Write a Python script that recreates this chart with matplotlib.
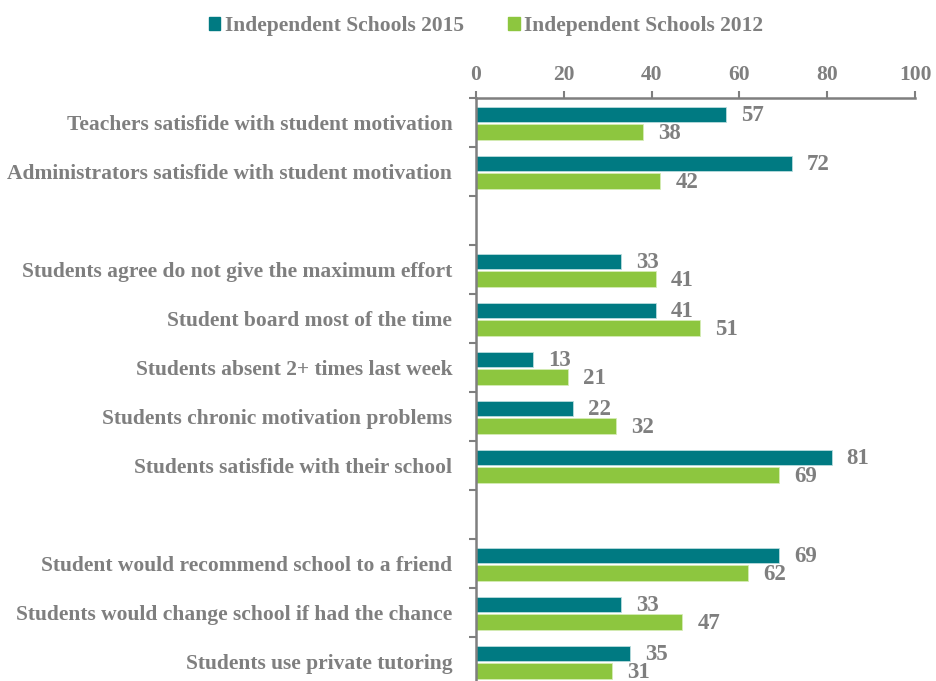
import numpy as np
import matplotlib.pyplot as plt
from matplotlib.patches import Patch

categories = [
    "Teachers satisfide with student motivation",
    "Administrators satisfide with student motivation",
    "",
    "Students agree do not give the maximum effort",
    "Student board most of the time",
    "Students absent 2+ times last week",
    "Students chronic motivation problems",
    "Students satisfide with their school",
    "",
    "Student would recommend school to a friend",
    "Students would change school if had the chance",
    "Students use private tutoring",
]
vals_2015 = [57, 72, None, 33, 41, 13, 22, 81, None, 69, 33, 35]
vals_2012 = [38, 42, None, 41, 51, 21, 32, 69, None, 62, 47, 31]

teal = "#007a82"
green = "#8dc63f"
grey = "#7f7f7f"
fs = 15.5

plt.rcParams["font.family"] = ["Liberation Serif", "DejaVu Serif"]
plt.rcParams["font.weight"] = "bold"

fig = plt.figure(figsize=(9.36, 6.81), dpi=100)
ax = fig.add_axes([0.5085, -0.0073, 0.4691, 0.8634])

y = np.arange(len(categories))
h = 0.31
for i, (a, b) in enumerate(zip(vals_2015, vals_2012)):
    if a is None:
        continue
    ax.barh(i - 0.165, a, height=h, color=teal, edgecolor="#b9dcdd", linewidth=0.6)
    ax.barh(i + 0.195, b, height=h, color=green, edgecolor="#d5ecb5", linewidth=0.6)
    ax.annotate(str(a), (a, i - 0.165), xytext=(15, -1), textcoords="offset pixels",
                va="center", ha="left", fontsize=fs + 1, color=grey, fontweight="bold")
    ax.annotate(str(b), (b, i + 0.195), xytext=(15, -1), textcoords="offset pixels",
                va="center", ha="left", fontsize=fs + 1, color=grey, fontweight="bold",
                annotation_clip=False)

ax.set_xlim(0, 100)
ax.set_ylim(len(categories) - 0.5, -0.5)
ax.xaxis.tick_top()
ax.set_xticks([0, 20, 40, 60, 80, 100])
ax.tick_params(axis="x", colors=grey, labelsize=fs, length=5, width=1.5, pad=4)

ax.set_yticks(y)
ax.set_yticklabels(categories)
ax.set_yticks(np.arange(len(categories) + 1) - 0.5, minor=True)
ax.tick_params(axis="y", which="major", length=0, pad=17, labelsize=fs, labelcolor=grey)
ax.tick_params(axis="y", which="minor", length=5, width=1.5, color=grey)

for s in ["right", "bottom"]:
    ax.spines[s].set_visible(False)
for s in ["top", "left"]:
    ax.spines[s].set_color(grey)
    ax.spines[s].set_linewidth(1.8)

handles = [Patch(color=teal, label="Independent Schools 2015"),
           Patch(color=green, label="Independent Schools 2012")]
fig.legend(handles=handles, loc="center", bbox_to_anchor=(0.519, 0.962), ncol=2,
           frameon=False, fontsize=fs, labelcolor=grey, handlelength=0.55,
           handleheight=0.55, handletextpad=0.2, columnspacing=2.05)

fig.savefig("out.png", dpi=100)
